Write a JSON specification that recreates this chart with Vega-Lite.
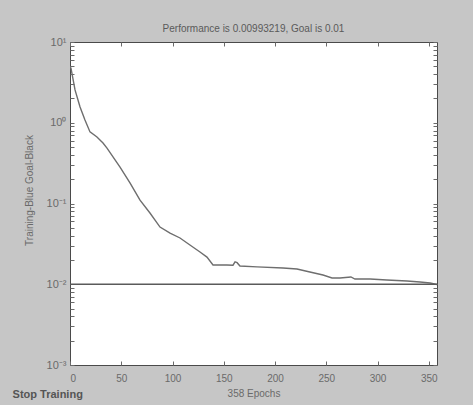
{
  "$schema": "https://vega.github.io/schema/vega-lite/v6.json",
  "autosize": "none",
  "padding": {"left": 70, "top": 42, "right": 36, "bottom": 40},
  "width": 367,
  "height": 323,
  "background": "#c6c6c6",
  "config": {
    "view": {"fill": "#ffffff", "stroke": "#4a4a4a", "strokeWidth": 1},
    "font": "Liberation Sans",
    "axis": {
      "domain": false,
      "grid": false,
      "labelColor": "#6a6a6a",
      "labelFont": "Liberation Sans",
      "labelFontSize": 10,
      "titleColor": "#6a6a6a",
      "titleFont": "Liberation Sans",
      "titleFontSize": 10,
      "titleFontWeight": "normal",
      "tickColor": "#6a6a6a",
      "tickSize": -4
    }
  },
  "title": {
    "text": "Performance is 0.00993219, Goal is 0.01",
    "fontSize": 10,
    "fontWeight": "normal",
    "color": "#5a5a5a",
    "font": "Liberation Sans",
    "offset": 2
  },
  "datasets": {
    "training": [
      {"epoch": 0, "perf": 5.0},
      {"epoch": 1, "perf": 4.7},
      {"epoch": 4.9, "perf": 2.55},
      {"epoch": 9.8, "perf": 1.57},
      {"epoch": 14.6, "perf": 1.08},
      {"epoch": 19.5, "perf": 0.77},
      {"epoch": 26.3, "perf": 0.667},
      {"epoch": 32.2, "perf": 0.561},
      {"epoch": 36.1, "perf": 0.486},
      {"epoch": 48.8, "perf": 0.283},
      {"epoch": 58.5, "perf": 0.18},
      {"epoch": 68.3, "perf": 0.11},
      {"epoch": 78, "perf": 0.0762},
      {"epoch": 87.8, "perf": 0.0511},
      {"epoch": 97.6, "perf": 0.0431},
      {"epoch": 107.3, "perf": 0.0374},
      {"epoch": 117, "perf": 0.0306},
      {"epoch": 126.8, "perf": 0.0251},
      {"epoch": 133.6, "perf": 0.0217},
      {"epoch": 139.5, "perf": 0.0173},
      {"epoch": 153, "perf": 0.0173},
      {"epoch": 159, "perf": 0.0172},
      {"epoch": 161, "perf": 0.0189},
      {"epoch": 163, "perf": 0.0185},
      {"epoch": 165.8, "perf": 0.0168},
      {"epoch": 182.4, "perf": 0.0164},
      {"epoch": 207.8, "perf": 0.0159},
      {"epoch": 221.4, "perf": 0.01545},
      {"epoch": 234, "perf": 0.0142},
      {"epoch": 246.8, "perf": 0.013},
      {"epoch": 255.6, "perf": 0.01195},
      {"epoch": 263.4, "perf": 0.01195},
      {"epoch": 274, "perf": 0.0123},
      {"epoch": 278, "perf": 0.0116},
      {"epoch": 292.7, "perf": 0.0116},
      {"epoch": 309, "perf": 0.0113},
      {"epoch": 328.7, "perf": 0.01097},
      {"epoch": 341.4, "perf": 0.01066},
      {"epoch": 351.2, "perf": 0.01035},
      {"epoch": 358, "perf": 0.00993219}
    ],
    "goal": [
      {"epoch": 0, "perf": 0.01},
      {"epoch": 358, "perf": 0.01}
    ],
    "button": [
      {"label": "Stop Training", "epoch": -56, "perf": 0.00042}
    ]
  },
  "layer": [
    {
      "data": {"name": "training"},
      "mark": {"type": "line", "color": "#6e6e6e", "strokeWidth": 1.4, "clip": true},
      "encoding": {
        "x": {
          "field": "epoch", "type": "quantitative",
          "scale": {"domain": [0, 358], "nice": false, "zero": false},
          "axis": {"orient": "bottom", "values": [0, 50, 100, 150, 200, 250, 300, 350], "title": "358 Epochs", "titlePadding": 5, "labelPadding": 12}
        },
        "y": {
          "field": "perf", "type": "quantitative",
          "scale": {"type": "log", "domain": [0.001, 10], "nice": false},
          "axis": {
            "orient": "left",
            "values": [0.001, 0.002, 0.003, 0.004, 0.005, 0.006, 0.007, 0.008, 0.009, 0.01, 0.02, 0.03, 0.04, 0.05, 0.06, 0.07, 0.08, 0.09, 0.1, 0.2, 0.3, 0.4, 0.5, 0.6, 0.7, 0.8, 0.9, 1, 2, 3, 4, 5, 6, 7, 8, 9, 10],
            "labelExpr": "datum.value == 10 ? '10¹' : datum.value == 1 ? '10⁰' : datum.value == 0.1 ? '10⁻¹' : datum.value == 0.01 ? '10⁻²' : datum.value == 0.001 ? '10⁻³' : ''",
            "labelFontSize": 11,
            "title": "Training-Blue  Goal-Black",
            "titleX": -36,
            "titleY": 148,
            "labelPadding": 8
          }
        }
      }
    },
    {
      "data": {"name": "goal"},
      "mark": {"type": "line", "color": "#5a5a5a", "strokeWidth": 1.4, "clip": true},
      "encoding": {
        "x": {
          "field": "epoch", "type": "quantitative",
          "axis": {"orient": "top", "values": [0, 50, 100, 150, 200, 250, 300, 350], "labels": false, "title": null}
        },
        "y": {
          "field": "perf", "type": "quantitative",
          "axis": {
            "orient": "right",
            "values": [0.001, 0.002, 0.003, 0.004, 0.005, 0.006, 0.007, 0.008, 0.009, 0.01, 0.02, 0.03, 0.04, 0.05, 0.06, 0.07, 0.08, 0.09, 0.1, 0.2, 0.3, 0.4, 0.5, 0.6, 0.7, 0.8, 0.9, 1, 2, 3, 4, 5, 6, 7, 8, 9, 10],
            "labels": false, "title": null
          }
        }
      }
    },
    {
      "data": {"name": "button"},
      "mark": {"type": "text", "align": "left", "baseline": "middle", "fontWeight": "bold", "fontSize": 11, "color": "#555555", "font": "Liberation Sans"},
      "encoding": {
        "x": {"field": "epoch", "type": "quantitative", "axis": null},
        "y": {"field": "perf", "type": "quantitative", "axis": null},
        "text": {"field": "label"}
      }
    }
  ],
  "resolve": {"axis": {"x": "independent", "y": "independent"}}
}
